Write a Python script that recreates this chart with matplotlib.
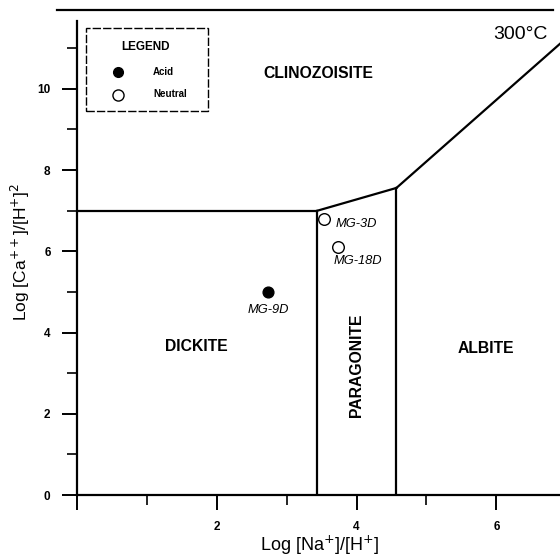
import matplotlib
matplotlib.use("Agg")
import matplotlib.pyplot as plt
from matplotlib.lines import Line2D

plt.rcParams['font.family'] = ['Liberation Sans', 'DejaVu Sans']

# Phase boundaries (log Na/H, log Ca/H2)
dickite_top_x = [0.0, 3.44]
dickite_top_y = [7.0, 7.0]
para_left_x = [3.44, 3.44]
para_left_y = [0.0, 7.0]
para_top_x = [3.44, 4.57]
para_top_y = [7.0, 7.56]
para_right_x = [4.57, 4.57]
para_right_y = [0.0, 7.56]
albite_top_x = [4.57, 6.95]
albite_top_y = [7.56, 11.17]

# Samples
acid_names = ["MG-9D"]
acid_x = [2.73]
acid_y = [5.0]
neutral_names = ["MG-3D", "MG-18D"]
neutral_x = [3.53, 3.73]
neutral_y = [6.8, 6.1]

regions = ["CLINOZOISITE", "DICKITE", "PARAGONITE", "ALBITE"]
region_x = [3.45, 1.7, 4.0, 5.85]
region_y = [10.38, 3.65, 3.2, 3.6]
region_rot = [0, 0, 90, 0]

fig = plt.figure(figsize=(5.6, 5.58), dpi=100)
ax = fig.add_axes([77/560, 63/558, 1 - 77/560, (495-21)/558])
ax.set_xlim(0, 6.91)
ax.set_ylim(0, 11.67)

for xs, ys in [(dickite_top_x, dickite_top_y), (para_left_x, para_left_y),
               (para_top_x, para_top_y), (para_right_x, para_right_y),
               (albite_top_x, albite_top_y)]:
    ax.plot(xs, ys, color='black', lw=1.6, clip_on=True)

ax.scatter(acid_x, acid_y, s=60, color='black', zorder=5)
ax.scatter(neutral_x, neutral_y, s=70, facecolor='white', edgecolor='black', lw=1.0, zorder=5)

ax.text(2.73, 4.55, acid_names[0], style='italic', fontsize=9.3, ha='center', va='center')
ax.text(3.7, 6.68, neutral_names[0], style='italic', fontsize=9.3, ha='left', va='center')
ax.text(3.67, 5.75, neutral_names[1], style='italic', fontsize=9.3, ha='left', va='center')

for name, x, y, r in zip(regions, region_x, region_y, region_rot):
    ax.text(x, y, name, fontsize=11.3, fontweight='bold', ha='center', va='center', rotation=r)

ax.text(6.34, 11.33, "300°C", fontsize=14, ha='center', va='center')

for s in ['top', 'right']:
    ax.spines[s].set_visible(False)
for s in ['left', 'bottom']:
    ax.spines[s].set_linewidth(1.6)

ax.set_xticks([0, 2, 4, 6])
ax.set_xticklabels(['', '2', '4', '6'])
ax.set_xticks([1, 3, 5], minor=True)
ax.set_yticks([0, 2, 4, 6, 8, 10])
ax.set_yticks([1, 3, 5, 7, 9, 11], minor=True)
ax.tick_params(axis='both', which='major', length=11, width=1.4, labelsize=8.5, pad=8)
ax.tick_params(axis='both', which='minor', length=7, width=1.2)
for lab in ax.get_xticklabels() + ax.get_yticklabels():
    lab.set_fontweight('bold')

fig.text(320/560, 1-545/558, "Log [Na$^{+}$]/[H$^{+}$]", fontsize=13,
         ha='center', va='center')
fig.text(20/560, 1-252/558, "Log [Ca$^{++}$]/[H$^{+}$]$^{2}$", fontsize=12.5,
         ha='center', va='center', rotation=90)

# Legend box
fig.add_artist(plt.Rectangle((86/560, 1-111/558), (208-86)/560, (111-28)/558,
                             transform=fig.transFigure, fill=False, lw=1.0,
                             ls=(0, (6, 1.5)), edgecolor='black'))
fig.text(146/560, 1-47/558, "LEGEND", fontsize=8.5, fontweight='bold', ha='center', va='center')
fig.add_artist(Line2D([118/560], [1-72/558], marker='o', ms=7, color='black', ls='none',
                      transform=fig.transFigure))
fig.add_artist(Line2D([118/560], [1-95/558], marker='o', ms=8, mfc='white', mec='black',
                      ls='none', transform=fig.transFigure))
fig.text(153/560, 1-72/558, "Acid", fontsize=7, fontweight='bold', ha='left', va='center')
fig.text(153/560, 1-94/558, "Neutral", fontsize=7, fontweight='bold', ha='left', va='center')

# Top border line
fig.add_artist(Line2D([57/560, 553/560], [1-10/558, 1-10/558], color='black', lw=1.6,
                      transform=fig.transFigure))

fig.savefig("out.png", dpi=100, facecolor='white')
